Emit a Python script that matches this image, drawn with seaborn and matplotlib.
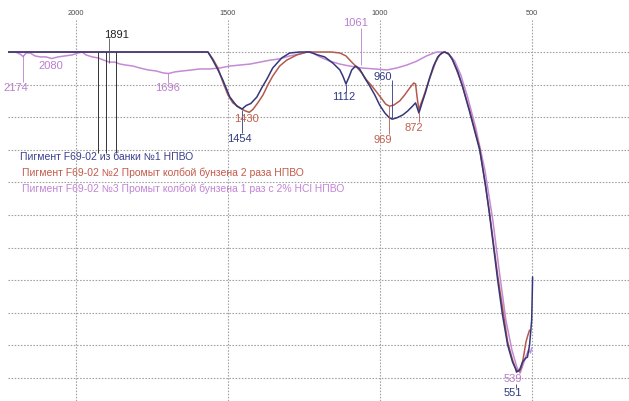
import numpy as np
import pandas as pd
import matplotlib
matplotlib.use("Agg")
import matplotlib.pyplot as plt
import seaborn as sns

# ---- IR spectra: wavenumber (cm-1) and transmittance (%) ----
blue_wn = [2224, 1600, 1566, 1550, 1533, 1517, 1494, 1471, 1454, 1440,
           1425, 1405, 1389, 1372, 1353, 1323, 1297, 1264, 1231, 1205,
           1182, 1155, 1132, 1122, 1112, 1102, 1093, 1080, 1067, 1050,
           1034, 1017, 1001, 984, 970, 960, 945, 925, 909, 893,
           883, 872, 863, 850, 837, 824, 810, 797, 787, 774,
           761, 744, 728, 705, 672, 653, 640, 626, 613, 597,
           580, 564, 554, 551, 541, 531, 521, 515, 508, 501,
           498]
blue_t = [100, 100, 100, 97.5, 94.5, 91.4, 86.2, 83.4, 82.5, 83.6,
          84.2, 86.2, 89.0, 91.7, 95.1, 98.2, 99.7, 100, 100, 99.1,
          98.5, 96.6, 94.5, 92.6, 90.2, 92.3, 94.5, 95.7, 94.8, 92.0,
          89.6, 86.8, 83.7, 81.3, 79.9, 79.4, 79.8, 80.7, 81.9, 83.4,
          84.4, 81.3, 84.0, 87.7, 92.0, 95.7, 98.5, 99.7, 100, 99.4,
          97.5, 93.9, 89.3, 81.6, 69.9, 59.2, 50.3, 39.9, 30.1, 19.3,
          10.1, 4.9, 2.8, 1.8, 2.5, 4.9, 6.1, 6.4, 10.1, 17.8,
          31.0]

red_wn = [2224, 1600, 1566, 1550, 1533, 1517, 1500, 1484, 1461, 1445,
          1430, 1418, 1402, 1385, 1369, 1353, 1330, 1307, 1274, 1241,
          1160, 1132, 1112, 1093, 1077, 1060, 1044, 1027, 1011, 994,
          981, 969, 955, 935, 919, 902, 889, 883, 878, 872,
          866, 856, 843, 830, 817, 804, 790, 777, 764, 748,
          731, 705, 672, 640, 613, 580, 564, 554, 548, 541,
          534, 527, 520, 514, 508]
red_t = [100, 100, 100, 97.9, 95.1, 90.8, 86.8, 84.4, 82.9, 82.0,
         81.5, 82.4, 84.4, 86.8, 89.9, 92.6, 95.7, 97.5, 99.1, 100,
         100, 99.7, 98.8, 96.9, 95.4, 93.6, 91.4, 89.6, 87.7, 85.6,
         84.0, 83.4, 83.7, 85.0, 86.8, 89.0, 90.5, 90.2, 86.2, 82.2,
         84.0, 86.5, 90.2, 93.6, 96.9, 99.1, 100, 99.7, 98.2, 94.5,
         90.2, 82.0, 70.5, 51.0, 31.5, 11.0, 5.5, 3.0, 2.2, 2.0,
         3.5, 7.0, 11.0, 13.0, 14.7]

pink_wn = [2224, 2200, 2184, 2174, 2164, 2151, 2135, 2118, 2099, 2080,
           2059, 2036, 2013, 1993, 1980, 1967, 1947, 1928, 1908, 1891,
           1872, 1855, 1836, 1813, 1790, 1763, 1737, 1714, 1696, 1675,
           1648, 1619, 1593, 1560, 1527, 1494, 1461, 1428, 1395, 1362,
           1330, 1297, 1264, 1238, 1221, 1198, 1165, 1132, 1100, 1061,
           1017, 977, 945, 912, 879, 847, 814, 787, 771, 754,
           734, 711, 685, 655, 629, 606, 586, 566, 550, 539,
           531, 518, 511, 505, 501]
pink_t = [100, 100, 99.4, 98.6, 99.7, 99.7, 98.8, 98.5, 98.5, 98.0,
          98.5, 98.8, 99.1, 99.7, 100, 99.1, 98.5, 98.2, 97.5, 96.9,
          96.9, 96.3, 96.0, 95.7, 95.1, 94.5, 94.2, 93.6, 93.4, 93.9,
          94.2, 94.5, 94.8, 94.8, 95.1, 95.7, 96.0, 96.3, 96.9, 97.5,
          97.9, 98.8, 99.4, 100, 99.7, 98.5, 97.2, 96.3, 95.7, 95.1,
          94.8, 94.5, 95.1, 96.0, 97.2, 98.8, 100, 100, 99.1, 97.2,
          92.9, 85.9, 76.7, 63.8, 48.5, 31.6, 17.8, 8.6, 3.4, 1.5,
          3.7, 7.1, 8.6, 7.7, 9.2]

series_names = [
    "Пигмент F69-02 из банки №1 НПВО",
    "Пигмент F69-02 №2 Промыт колбой бунзена 2 раза НПВО",
    "Пигмент F69-02 №3 Промыт колбой бунзена 1 раз с 2% HCl НПВО",
]
series_colors = ["#34377c", "#b35a4c", "#c48ad6"]
legend_colors = ["#3a3e8e", "#c25a4a", "#c283d6"]

x_ticks = [2000, 1500, 1000, 500]

# peak annotations: (value, series index) ; index 3 = cursor (grey)
peak_values = [2174, 2080, 1696, 1891, 1061, 1454, 1430, 1112, 960, 969, 872, 539, 551]
peak_series = [2, 2, 2, 3, 2, 0, 1, 0, 0, 1, 1, 2, 0]
cursor_lines = [1928, 1901, 1869]

# ---- annotation placement ----
label_pos = {          # text centre in data coordinates
    2174: (2197, 89.0), 2080: (2082, 95.7), 1696: (1698, 89.0),
    1891: (1868, 105.2), 1061: (1080, 108.9), 1454: (1461, 73.3),
    1430: (1438, 79.4), 1112: (1119, 86.2), 960: (991, 92.3),
    969: (991, 73.0), 872: (889, 76.7), 539: (564, -0.3), 551: (564, -4.6),
}
leader = {             # vertical leader line extent (T from, T to)
    2174: (99.1, 90.8), 1696: (93.6, 90.5), 1891: (104.3, 96.6),
    1061: (107.4, 96.0), 1454: (82.2, 75.2), 1112: (90.2, 87.7),
    960: (91.4, 79.8), 969: (83.4, 74.8), 872: (81.6, 78.5),
    551: (-1.8, -3.2),
}

sns.set_theme(style="white")
plt.rcParams["font.family"] = ["Liberation Sans", "DejaVu Sans"]

frames = []
for name, wn, t in [(series_names[2], pink_wn, pink_t),
                    (series_names[1], red_wn, red_t),
                    (series_names[0], blue_wn, blue_t)]:
    frames.append(pd.DataFrame({"wn": wn, "T": t, "series": name}))
df = pd.concat(frames, ignore_index=True)

fig = plt.figure(figsize=(6.29, 4.01), dpi=100)
ax = fig.add_axes([8 / 629, 0, 621 / 629, 381 / 401])

ax.set_xlim(2223.7, 180.9)
ax.set_ylim(-7.05, 109.82)

ax.set_xticks(x_ticks)
ax.set_xticklabels([str(v) for v in x_ticks])
ax.set_yticks(np.arange(0, 101, 10))
ax.set_yticklabels([])
ax.xaxis.tick_top()
ax.tick_params(axis="x", length=0, pad=2.5, labelsize=5.3, labelcolor="#4a4a4a")
ax.tick_params(axis="y", length=0)
ax.grid(True, color="#a0a0a0", linestyle=(0, (1.4, 1.4)), linewidth=0.8)
for s in ax.spines.values():
    s.set_visible(False)

palette = {series_names[i]: series_colors[i] for i in range(3)}
sns.lineplot(data=df, x="wn", y="T", hue="series",
             hue_order=[series_names[2], series_names[1], series_names[0]],
             palette=palette, sort=False, estimator=None, legend=False,
             linewidth=1.1, ax=ax)
ax.set_xlabel("")
ax.set_ylabel("")

# cursor lines
ax.vlines(cursor_lines, 69.0, 100, colors="#333333", linewidth=0.7)

label_colors = series_colors[:2] + ["#b97fcc", "#555555"]
text_colors = ["#2f3a80", "#c0604e", "#b97fcc", "#222222"]
for val, si in zip(peak_values, peak_series):
    if val in leader:
        y0, y1 = leader[val]
        ax.vlines(val, y0, y1, colors=label_colors[si], linewidth=0.6)
    tx, ty = label_pos[val]
    ax.text(tx, ty, str(val), ha="center", va="center", fontsize=8,
            color=text_colors[si], clip_on=False)

# series captions
for i, (name, ypix) in enumerate(zip(series_names, [157, 173, 189])):
    fig.text((20 + (2 if i else 0)) / 629, 1 - ypix / 401, name,
             ha="left", va="center", fontsize=7.5, color=legend_colors[i])

fig.savefig("out.png", dpi=100)
